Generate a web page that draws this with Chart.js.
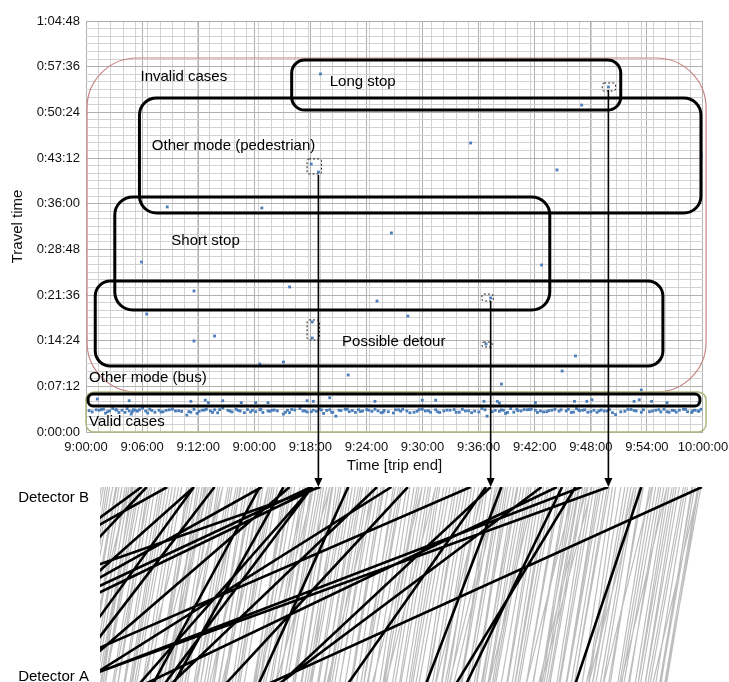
<!DOCTYPE html>
<html>
<head>
<meta charset="utf-8">
<script src="https://cdn.jsdelivr.net/npm/chart.js@4.4.1/dist/chart.umd.min.js"></script>
<style>
  html, body { margin: 0; padding: 0; background: #fff; overflow: hidden; }
  canvas { display: block; }
</style>
</head>
<body>
<canvas id="travelChart" width="729" height="478"></canvas>
<canvas id="detectorChart" width="729" height="204"></canvas>
<script>
const xLabels = ["9:00:00", "9:06:00", "9:12:00", "9:00:00", "9:18:00", "9:24:00",
                 "9:30:00", "9:36:00", "9:42:00", "9:48:00", "9:54:00", "10:00:00"];
const yLabels = ["0:00:00", "0:07:12", "0:14:24", "0:21:36", "0:28:48",
                 "0:36:00", "0:43:12", "0:50:24", "0:57:36", "1:04:48"];

// trip end in minutes after 9:00, travel time in seconds
const validEnd = [1.0, 1.3, 1.7, 2.3, 2.9, 3.5, 4.0, 4.2, 4.5, 4.8, 5.2, 5.8, 6.2, 6.7, 7.1, 7.5, 8.1, 8.7,
  10.2, 10.8, 11.3, 11.7, 12.1, 12.5, 13.3, 14.6, 15.0, 15.4, 16.2, 16.5, 16.9, 17.7, 18.1, 19.6, 19.8,
  20.8, 21.1, 22.1, 22.7, 23.1, 23.7, 24.0, 24.6, 25.2, 25.6, 26.5, 26.9, 28.1, 28.4, 28.7, 29.4, 30.4,
  31.2, 31.9, 32.7, 33.0, 33.5, 34.0, 34.8, 35.4, 36.3, 36.9, 37.5, 38.5, 38.8, 40.6, 40.8, 41.3, 41.9,
  42.3, 42.9, 43.3, 43.7, 44.2, 44.8, 46.2, 46.7, 47.7, 48.3, 48.8, 49.4, 50.4, 51.2, 51.5, 53.5, 54.2,
  54.8, 55.4, 56.2, 56.7, 57.7, 58.5, 59.2, 59.8,
  0.6, 1.9, 2.6, 3.2, 4.4, 5.5, 6.0, 7.8, 9.3, 9.8, 10.5, 11.0, 12.8, 13.8, 14.2, 15.7, 17.2, 18.6, 19.2,
  20.3, 21.5, 22.4, 23.4, 24.3, 25.9, 26.2, 27.3, 27.8, 29.0, 29.9, 30.8, 32.2, 34.4, 35.8, 37.2, 38.2,
  39.0, 39.8, 40.2, 41.6, 42.6, 43.9, 45.0, 45.6, 47.2, 47.9, 49.9, 50.9, 52.4, 53.0, 55.9, 57.2, 58.1,
  58.9, 59.5,
  0.3, 1.5, 2.1, 3.0, 3.8, 4.6, 5.0, 6.4, 7.3, 8.4, 9.0, 10.0, 11.5, 12.3, 13.0, 14.0, 14.8, 16.0, 17.0,
  17.9, 18.3, 19.4, 20.0, 21.3, 21.9, 22.9, 23.9, 24.8, 25.4, 26.7, 27.5, 28.9, 30.1, 30.6, 31.5, 32.4,
  33.3, 34.2, 35.1, 36.0, 36.6, 37.8, 39.5, 40.4, 41.0, 42.0, 43.1, 44.5, 45.3, 46.0, 46.9, 47.4, 48.0,
  48.5, 49.1, 49.7, 50.1, 50.7, 52.0, 52.7, 53.3, 54.0, 55.1, 55.7, 56.5, 57.0, 57.4, 58.3, 59.0, 59.6];
const validTravel = [210, 206, 215, 199, 210, 206, 221, 199, 192, 206, 210, 199, 215, 187, 206, 192, 210, 199,
  187, 176, 206, 215, 199, 210, 228, 215, 199, 183, 206, 192, 210, 199, 206, 206, 183,
  221, 199, 206, 215, 176, 210, 187, 206, 215, 192, 210, 199, 215, 199, 183, 192, 210,
  199, 187, 215, 199, 187, 210, 199, 206, 187, 199, 183, 221, 210, 206, 176, 221, 215,
  199, 210, 215, 206, 199, 192, 210, 199, 221, 206, 187, 206, 199, 183, 165, 199, 210,
  192, 206, 215, 187, 206, 192, 206, 215,
  190, 178, 222, 185, 170, 226, 180, 205, 195, 160, 214, 196, 182, 205, 190, 212, 185, 200, 170,
  208, 189, 196, 205, 150, 203, 186, 212, 195, 204, 180, 214, 196, 185, 212, 200, 190,
  150, 205, 196, 188, 212, 185, 202, 214, 185, 209, 200, 212, 196, 213, 190, 203, 215,
  185, 200,
  202, 213, 192, 208, 186, 211, 197, 204, 189, 216, 200, 193, 207, 185, 211, 198, 204, 190, 214,
  196, 208, 187, 213, 200, 192, 209, 186, 203, 215, 194, 206, 188, 210, 197, 182, 212,
  201, 191, 207, 186, 214, 198, 192, 209, 185, 203, 212, 190, 206, 197, 214, 188, 201,
  210, 193, 186, 208, 199, 191, 213, 204, 187, 198, 211, 192, 205, 188, 214, 200, 195];
const busEnd = [1.1, 4.2, 10.2, 11.6, 11.9, 13.3, 15.1, 16.5, 17.7, 21.5, 22.1, 23.7, 28.1, 32.7,
  34.0, 38.7, 40.0, 40.2, 43.7, 47.5, 48.7, 49.2, 53.3, 53.8, 55.0, 56.5, 59.6];
const busTravel = [312, 296, 290, 301, 278, 296, 278, 278, 278, 296, 290, 324, 290, 301,
  301, 290, 290, 274, 278, 290, 290, 305, 290, 305, 290, 278, 278];
const invalidEnd = [22.8, 21.9, 22.6, 7.9, 17.1, 50.8, 48.2, 37.4, 45.8, 59.9, 5.4, 10.5, 19.8, 5.9,
  22.0, 22.0, 10.5, 12.5, 16.9, 19.2, 25.5, 29.7, 44.3, 28.3, 31.3, 39.35, 38.9, 47.6, 46.3, 40.4, 54.0];
const invalidTravel = [3387, 2535, 2459, 2129, 2119, 3264, 3093, 2734, 2479, 2611, 1608, 1334, 1372, 1116,
  1041, 889, 861, 908, 643, 662, 539, 1883, 1580, 1239, 1097, 1268, 832, 719, 577, 454, 397];

// annotation regions (minutes / seconds)
const regions = [
  { x0: 0.1, x1: 60.3, y0: 378, y1: 3538, color: '#c98585', width: 1.2, radius: 50 },
  { x0: 0.0, x1: 60.3, y0: 0, y1: 378, color: '#adb67e', width: 1.5, radius: 8 },
  { x0: 0.2, x1: 59.7, y0: 246, y1: 359, color: '#000', width: 3, radius: 5 },
  { x0: 0.9, x1: 56.1, y0: 624, y1: 1428, color: '#000', width: 3, radius: 15 },
  { x0: 2.8, x1: 45.1, y0: 1154, y1: 2223, color: '#000', width: 3, radius: 18 },
  { x0: 5.2, x1: 59.8, y0: 2072, y1: 3160, color: '#000', width: 3, radius: 17 },
  { x0: 20.0, x1: 52.0, y0: 3046, y1: 3519, color: '#000', width: 3, radius: 13 }
];
const regionLabels = [
  { text: 'Invalid cases', x: 5.3, y: 3358 },
  { text: 'Long stop', x: 23.7, y: 3311 },
  { text: 'Other mode (pedestrian)', x: 6.4, y: 2706 },
  { text: 'Short stop', x: 8.3, y: 1807 },
  { text: 'Possible detour', x: 24.9, y: 851 },
  { text: 'Other mode (bus)', x: 0.3, y: 511 },
  { text: 'Valid cases', x: 0.3, y: 95 }
];
const markBoxes = [
  [21.5, 22.9, 2441, 2583],
  [50.2, 51.5, 3226, 3302],
  [38.5, 39.6, 1239, 1305],
  [38.5, 39.5, 804, 851],
  [21.5, 22.7, 870, 1060]
];
const arrowTrips = [2, 5, 25];

const X_MAX = 60;
const X_MAJOR = X_MAX / (xLabels.length - 1);
const X_MINOR = 1.2;
const Y_MAJOR = 432;
const Y_MINOR = 72;
const Y_MAX = Y_MAJOR * (yLabels.length - 1);

Chart.defaults.font.family = '"Liberation Sans", Arial, sans-serif';
Chart.defaults.color = '#111';

const isMajorX = v => Math.abs(v / X_MAJOR - Math.round(v / X_MAJOR)) < 1e-6;
const isMajorY = v => Math.abs(v / Y_MAJOR - Math.round(v / Y_MAJOR)) < 1e-6;

function roundRect(ctx, x, y, w, h, r) {
  r = Math.min(r, w / 2, h / 2);
  ctx.beginPath();
  ctx.moveTo(x + r, y);
  ctx.lineTo(x + w - r, y);
  ctx.arcTo(x + w, y, x + w, y + r, r);
  ctx.lineTo(x + w, y + h - r);
  ctx.arcTo(x + w, y + h, x + w - r, y + h, r);
  ctx.lineTo(x + r, y + h);
  ctx.arcTo(x, y + h, x, y + h - r, r);
  ctx.lineTo(x, y + r);
  ctx.arcTo(x, y, x + r, y, r);
  ctx.closePath();
}

const toPoints = (ends, travels) => ends.map((e, i) => ({ x: e, y: travels[i] }));

const annotationPlugin = {
  id: 'travelAnnotations',
  afterDraw(chart) {
    const { ctx } = chart;
    const xs = chart.scales.x, ys = chart.scales.y;
    ctx.save();
    regions.forEach(r => {
      const l = xs.getPixelForValue(r.x0), rr = xs.getPixelForValue(r.x1);
      const t = ys.getPixelForValue(r.y1), b = ys.getPixelForValue(r.y0);
      ctx.strokeStyle = r.color;
      ctx.lineWidth = r.width;
      roundRect(ctx, l, t, rr - l, b - t, r.radius);
      ctx.stroke();
    });
    ctx.fillStyle = '#000';
    ctx.font = '15px "Liberation Sans", Arial, sans-serif';
    ctx.textAlign = 'left';
    ctx.textBaseline = 'middle';
    regionLabels.forEach(lb => {
      ctx.fillText(lb.text, xs.getPixelForValue(lb.x), ys.getPixelForValue(lb.y));
    });
    ctx.lineWidth = 1;
    ctx.setLineDash([2, 2]);
    ctx.strokeStyle = '#222';
    markBoxes.forEach(m => {
      const l = xs.getPixelForValue(m[0]), r = xs.getPixelForValue(m[1]);
      const t = ys.getPixelForValue(m[3]), b = ys.getPixelForValue(m[2]);
      roundRect(ctx, l, t, r - l, b - t, 2);
      ctx.stroke();
    });
    ctx.setLineDash([]);
    ctx.strokeStyle = '#000';
    ctx.lineWidth = 1.6;
    arrowTrips.forEach(i => {
      const px = xs.getPixelForValue(invalidEnd[i]);
      const py = ys.getPixelForValue(invalidTravel[i]) + 3;
      ctx.beginPath();
      ctx.moveTo(px, py);
      ctx.lineTo(px, chart.height);
      ctx.stroke();
    });
    ctx.restore();
  }
};

const travelChart = new Chart(document.getElementById('travelChart'), {
  type: 'scatter',
  data: {
    datasets: [
      { label: 'Invalid', data: toPoints(invalidEnd, invalidTravel) },
      { label: 'Bus', data: toPoints(busEnd, busTravel) },
      { label: 'Valid', data: toPoints(validEnd, validTravel) }
    ].map(d => Object.assign(d, {
      pointStyle: 'rect', pointRadius: 2, backgroundColor: '#4a7ebb', borderWidth: 0
    }))
  },
  options: {
    responsive: false,
    animation: false,
    events: [],
    layout: { padding: { top: 21, right: 26, left: 0, bottom: 0 } },
    plugins: { legend: { display: false }, tooltip: { enabled: false } },
    scales: {
      x: {
        type: 'linear', min: 0, max: X_MAX,
        afterFit: s => { s.height = 46; s.paddingLeft = 0; s.paddingRight = 0; },
        afterBuildTicks: s => {
          const vals = [];
          for (let i = 0; i < xLabels.length; i++) vals.push(i * X_MAJOR);
          for (let v = 0; v <= X_MAX + 1e-9; v += X_MINOR) {
            if (!vals.some(u => Math.abs(u - v) < 1e-6)) vals.push(v);
          }
          vals.sort((a, b) => a - b);
          s.ticks = vals.map(v => ({ value: v }));
        },
        ticks: {
          autoSkip: false, maxRotation: 0, padding: 8,
          font: { size: 13 }, color: '#111',
          callback: v => isMajorX(v) ? xLabels[Math.round(v / X_MAJOR)] : ''
        },
        grid: {
          drawTicks: false,
          color: c => isMajorX(c.tick.value) ? '#b0b0b0' : '#d2d2d2',
          lineWidth: 1
        },
        border: { display: false },
        title: { display: true, text: 'Time [trip end]', font: { size: 15 }, color: '#111',
                 padding: { top: 0, bottom: 3 } }
      },
      y: {
        type: 'linear', min: 0, max: Y_MAX,
        afterFit: s => { s.width = 86; s.paddingTop = 0; s.paddingBottom = 0; },
        afterBuildTicks: s => {
          const vals = [];
          for (let v = 0; v <= Y_MAX; v += Y_MINOR) vals.push(v);
          s.ticks = vals.map(v => ({ value: v }));
        },
        ticks: {
          autoSkip: false, padding: 6,
          font: { size: 13 }, color: '#111',
          callback: v => isMajorY(v) ? yLabels[Math.round(v / Y_MAJOR)] : ''
        },
        grid: {
          drawTicks: false,
          color: c => isMajorY(c.tick.value) ? '#b0b0b0' : '#d2d2d2',
          lineWidth: 1
        },
        border: { display: false },
        title: { display: true, text: 'Travel time', font: { size: 15 }, color: '#111',
                 padding: { top: 9, bottom: 0 } }
      }
    }
  },
  plugins: [annotationPlugin]
});

// bottom panel: each trip drawn from detector A (start) to detector B (end)
const PANEL_LEFT = 100;
const tx = travelChart.scales.x;
const panelMin = tx.getValueForPixel(PANEL_LEFT);

function tripLines(ends, travels) {
  const pts = [];
  ends.forEach((e, i) => {
    pts.push({ x: e - travels[i] / 60, y: 0 });
    pts.push({ x: e, y: 1 });
    pts.push({ x: e, y: null });
  });
  return pts;
}

const detectorPlugin = {
  id: 'detectorDecor',
  afterDraw(chart) {
    const { ctx, chartArea } = chart;
    const xs = chart.scales.x, ys = chart.scales.y;
    ctx.save();
    ctx.strokeStyle = '#000';
    ctx.fillStyle = '#000';
    ctx.lineWidth = 1.6;
    arrowTrips.forEach(i => {
      const px = xs.getPixelForValue(invalidEnd[i]);
      const tip = ys.getPixelForValue(1);
      ctx.beginPath();
      ctx.moveTo(px, 0);
      ctx.lineTo(px, tip - 8);
      ctx.stroke();
      ctx.beginPath();
      ctx.moveTo(px - 4.5, tip - 10);
      ctx.lineTo(px + 4.5, tip - 10);
      ctx.lineTo(px, tip);
      ctx.closePath();
      ctx.fill();
    });
    ctx.font = '15px "Liberation Sans", Arial, sans-serif';
    ctx.textAlign = 'right';
    ctx.textBaseline = 'middle';
    ctx.fillText('Detector B', chartArea.left - 11, ys.getPixelForValue(1) + 11);
    ctx.fillText('Detector A', chartArea.left - 11, ys.getPixelForValue(0) - 13);
    ctx.restore();
  }
};

new Chart(document.getElementById('detectorChart'), {
  type: 'line',
  data: {
    datasets: [
      { label: 'Invalid', data: tripLines(invalidEnd, invalidTravel),
        borderColor: '#000', borderWidth: 2.6 },
      { label: 'Valid', data: tripLines(validEnd.concat(busEnd), validTravel.concat(busTravel)),
        borderColor: '#bdbdbd', borderWidth: 1.2 }
    ].map(d => Object.assign(d, { pointRadius: 0, tension: 0, spanGaps: false, fill: false }))
  },
  options: {
    responsive: false,
    animation: false,
    events: [],
    layout: { padding: { top: 9, right: 729 - tx.right, left: PANEL_LEFT, bottom: 0 } },
    plugins: { legend: { display: false }, tooltip: { enabled: false } },
    scales: {
      x: { type: 'linear', min: panelMin, max: X_MAX, display: false },
      y: { type: 'linear', min: 0.04, max: 1, display: false }
    }
  },
  plugins: [detectorPlugin]
});
</script>
</body>
</html>
